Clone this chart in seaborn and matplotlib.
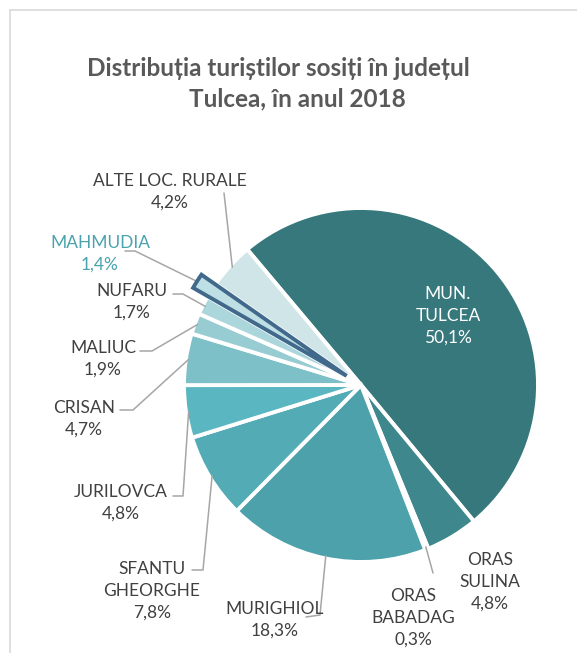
import numpy as np
import matplotlib
matplotlib.use("Agg")
import matplotlib.pyplot as plt
import seaborn as sns

# ---- data ----
categories = ["MUN.\nTULCEA", "ORAS\nSULINA", "ORAS\nBABADAG", "MURIGHIOL",
              "SFANTU\nGHEORGHE", "JURILOVCA", "CRISAN", "MALIUC", "NUFARU",
              "MAHMUDIA", "ALTE LOC. RURALE"]
values = [50.1, 4.8, 0.3, 18.3, 7.8, 4.8, 4.7, 1.9, 1.7, 1.4, 4.2]
colors = ["#37787C", "#3E888D", "#4597A0", "#4DA1AB", "#53ABB5", "#5AB6C1",
          "#7DC0C8", "#97CCD3", "#ABD6DB", "#BEDFE3", "#CFE5E8"]
title_lines = ["Distribuția turiștilor sosiți în județul", "Tulcea, în anul 2018"]

sns.set_theme(style="white")
plt.rcParams["font.family"] = ["Lato", "DejaVu Sans"]

W, H = 577, 653
fig = plt.figure(figsize=(W / 100, H / 100), dpi=100)
ax = fig.add_axes([0, 0, 1, 1])

def P(x, y):
    return x, H - y

cx, cy = P(361, 385)
R = 177
explode = [0, 0, 0, 0, 0, 0, 0, 0, 0, 17, 0]
wedges, _ = ax.pie(values, colors=colors, startangle=130, counterclock=False,
                   center=(cx, cy), radius=R, explode=explode,
                   wedgeprops=dict(edgecolor="white", linewidth=2.8))
wedges[9].set_edgecolor("#41698C")
wedges[9].set_linewidth(2.8)
wedges[9].set_zorder(5)

ax.set_xlim(0, W)
ax.set_ylim(0, H)
ax.set_aspect("equal")
ax.axis("off")

# chart frame
ax.plot([9.5, 9.5], [0, H - 10], color="#D9D9D9", lw=1.2, clip_on=False)
ax.plot([9.5, W], [H - 10, H - 10], color="#D9D9D9", lw=1.2, clip_on=False)

# title (two lines, as wrapped in the original)
ax.text(*P(278, 68), title_lines[0], ha="center", va="center", fontsize=17.5,
        fontweight="bold", color="#595959")
ax.text(*P(297, 99), title_lines[1], ha="center", va="center", fontsize=17.5,
        fontweight="bold", color="#595959")

def pct(v):
    return f"{v:.1f}".replace(".", ",") + "%"

# label layout: (text centre, elbow points in pixels)
layout = {
    0: ((448, 316), None),
    1: ((490, 582), None),
    2: ((413, 618), [(433, 573)]),
    3: ((275, 620), [(306, 617), (320, 615)]),
    4: ((152, 591), [(192, 570), (203, 570)]),
    5: ((121, 503), [(173, 496), (183, 496)]),
    6: ((84, 419), [(120, 410), (133, 410)]),
    7: ((103, 359), [(140, 351), (152, 351)]),
    8: ((132, 302), [(173, 294), (183, 294)]),
    9: ((100, 254), [(125, 251), (135, 251)]),
    10: ((170, 192), [(224, 193)]),
}

for i, (cat, v) in enumerate(zip(categories, values)):
    (tx, ty), elbows = layout[i]
    color = "white" if i == 0 else ("#4AA3AC" if i == 9 else "#404040")
    ax.text(*P(tx, ty), cat + "\n" + pct(v), ha="center", va="center",
            fontsize=12.5, color=color, linespacing=1.45, zorder=6)
    if elbows:
        w = wedges[i]
        th = np.deg2rad((w.theta1 + w.theta2) / 2)
        ex = w.center[0] + w.r * 0.985 * np.cos(th)
        ey = w.center[1] + w.r * 0.985 * np.sin(th)
        pts = [P(*p) for p in elbows] + [(ex, ey)]
        xs, ys = zip(*pts)
        ax.plot(xs, ys, color="#A6A6A6", lw=1.1, zorder=4)

fig.savefig("out.png", dpi=100, facecolor="white")
